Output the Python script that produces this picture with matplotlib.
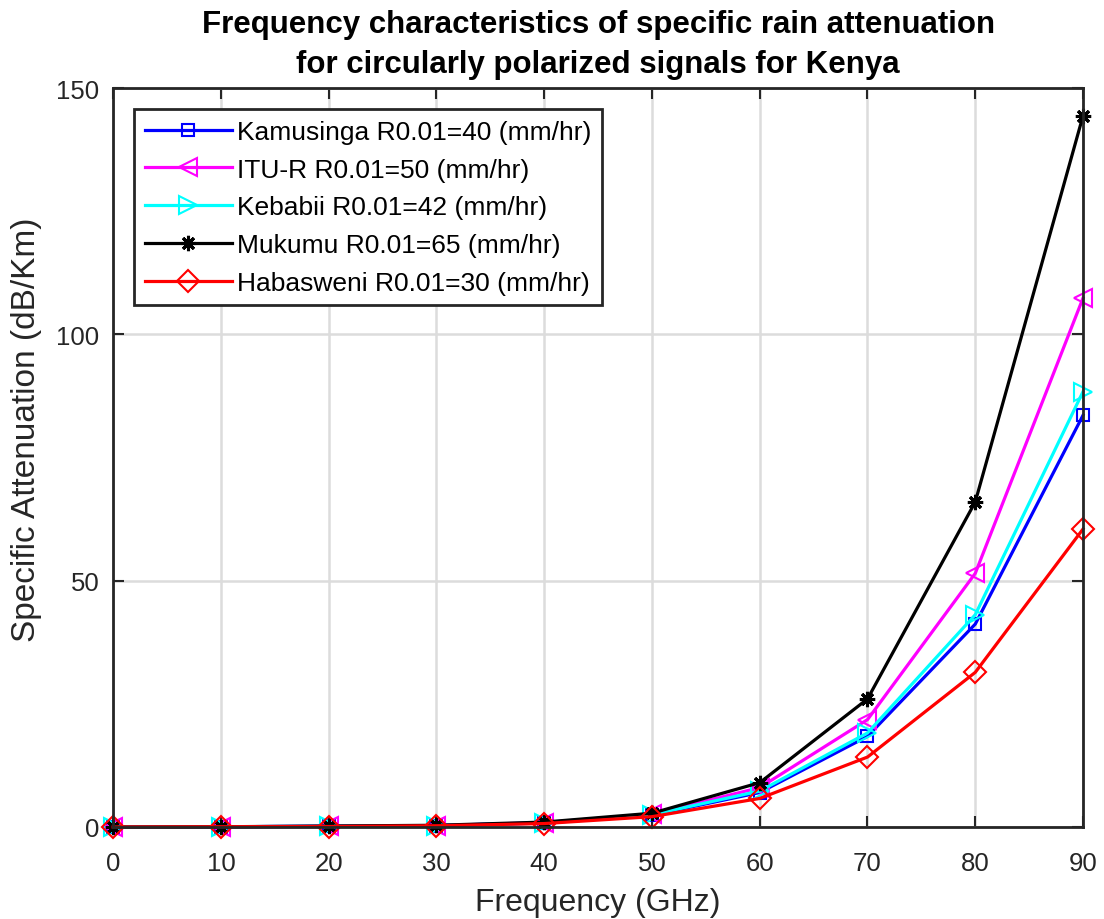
import numpy as np
import matplotlib
matplotlib.use("Agg")
import matplotlib.pyplot as plt

plt.rcParams['font.family'] = ['Liberation Sans', 'DejaVu Sans']

freq = [0, 10, 20, 30, 40, 50, 60, 70, 80, 90]
kamusinga = [0, 0.05, 0.15, 0.3, 0.8, 2.4, 7.0, 18.4, 41.2, 83.6]
itu_r = [0, 0.05, 0.15, 0.3, 0.9, 2.6, 8.0, 21.8, 51.5, 107.4]
kebabii = [0, 0.05, 0.15, 0.3, 0.85, 2.5, 7.3, 19.1, 43.1, 88.4]
mukumu = [0, 0.05, 0.2, 0.35, 1.0, 2.8, 9.0, 26.0, 66.0, 144.4]
habasweni = [0, 0.05, 0.1, 0.25, 0.7, 2.1, 5.8, 14.2, 31.4, 60.5]

labels = ["Kamusinga R0.01=40 (mm/hr)", "ITU-R R0.01=50 (mm/hr)",
          "Kebabii R0.01=42 (mm/hr)", "Mukumu R0.01=65 (mm/hr)",
          "Habasweni R0.01=30 (mm/hr)"]

fig = plt.figure(figsize=(11.04, 9.2), dpi=100)
ax = fig.add_axes([0.1025, 0.1, 0.8785, 0.803])

lw = 2.3
ax.plot(freq, kamusinga, color='#0000ff', lw=lw, marker='s', ms=9, mfc='none', mew=1.5, label=labels[0], clip_on=False)
ax.plot(freq, itu_r, color='#ff00ff', lw=lw, marker='<', ms=13, mfc='none', mew=1.5, label=labels[1], clip_on=False)
ax.plot(freq, kebabii, color='#00ffff', lw=lw, marker='>', ms=13, mfc='none', mew=1.5, label=labels[2], clip_on=False)
ax.plot(freq, mukumu, color='black', lw=lw, marker=(8, 2, 0), ms=11, mew=2.2, label=labels[3], clip_on=False)
ax.plot(freq, habasweni, color='#ff0000', lw=lw, marker='D', ms=11, mfc='none', mew=1.5, label=labels[4], clip_on=False)

ax.set_xlim(0, 90)
ax.set_ylim(0, 150)
ax.set_xticks(range(0, 91, 10))
ax.set_yticks([0, 50, 100, 150])
ax.grid(True, color='#dcdcdc', lw=1.8)
ax.set_axisbelow(True)
ax.tick_params(direction='in', top=True, right=True, labelsize=18.5, length=8, width=1.5,
               colors='#262626')
ax.tick_params(axis='x', pad=17)
ax.tick_params(axis='y', pad=10)
for s in ax.spines.values():
    s.set_linewidth(2)
    s.set_color('#262626')

ax.set_xlabel("Frequency (GHz)", fontsize=23, color='#262626', labelpad=9)
ax.set_ylabel("Specific Attenuation (dB/Km)", fontsize=24, color='#262626')
ax.yaxis.set_label_coords(-0.073, 0.539)
ax.set_title("Frequency characteristics of specific rain attenuation\nfor circularly polarized signals for Kenya",
             fontsize=22.5, fontweight='bold', pad=12, linespacing=1.4)

leg = ax.legend(loc='upper left', fontsize=19, fancybox=False, edgecolor='#262626',
                framealpha=1, handlelength=3.3, borderaxespad=0.8, labelspacing=0.52,
                handletextpad=0.2, borderpad=0.4)
leg.get_frame().set_linewidth(2)

fig.savefig("out.png", dpi=100)
